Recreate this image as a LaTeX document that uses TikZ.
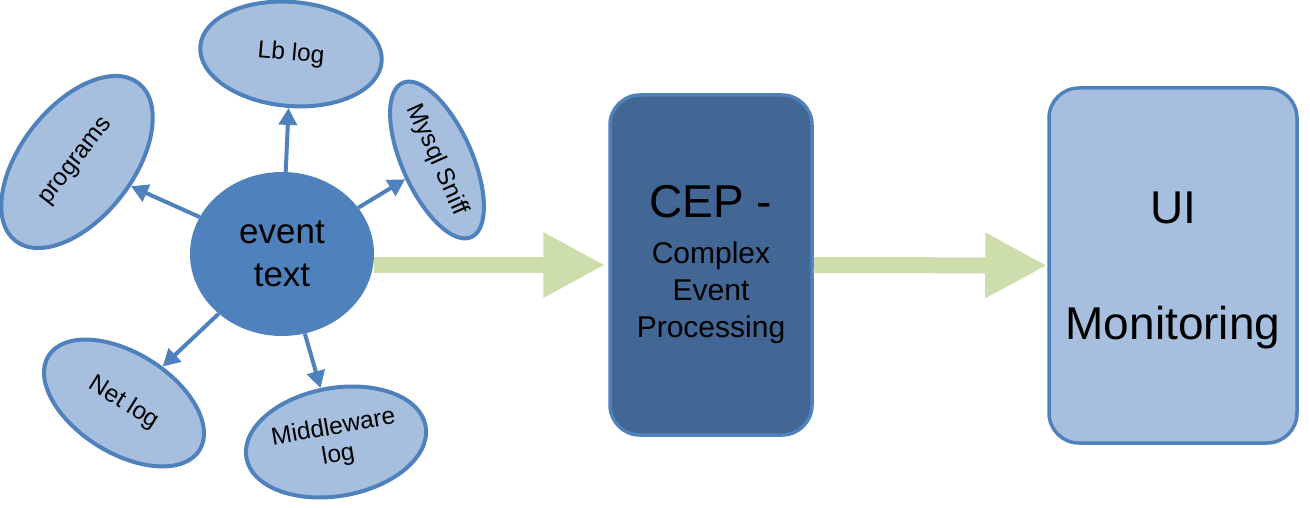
\documentclass[tikz,border=0pt]{standalone}
\usepackage{fontspec}
\setmainfont{Liberation Sans}
\usetikzlibrary{shapes.geometric,arrows.meta}
\definecolor{edgeblue}{RGB}{79,129,189}
\definecolor{lightblue}{RGB}{167,191,222}
\definecolor{darkblue}{RGB}{66,103,148}
\definecolor{paleolive}{RGB}{205,221,172}

\begin{document}
\begin{tikzpicture}[x=1pt,y=-1pt,
		source/.style={ellipse,draw=edgeblue,fill=lightblue,line width=4pt,inner sep=0pt,align=center,font=\fontsize{24.5}{28}\selectfont},
		feed/.style={draw=edgeblue,line width=4pt,-{Triangle[length=17pt,width=18pt]}},
		stage/.style={rectangle,rounded corners=30pt,draw=edgeblue,line width=3.5pt,align=center},
		flow/.style={draw=paleolive,line width=16pt,-{Triangle[length=62pt,width=61pt]}}]
	\useasboundingbox (0,0) rectangle (1310,508);
	% Nodes
	\node[ellipse,fill=edgeblue,minimum width=184pt,minimum height=164pt,inner sep=0pt,align=center,font=\fontsize{35}{43}\selectfont] (event) at (282,254) {event\\text};
	
	\node[source,rotate=-5,minimum width=182pt,minimum height=104pt] (lb) at (291,54) {Lb log};
	\node[source,rotate=52,minimum width=200pt,minimum height=112pt] (prog) at (77,162) {programs};
	\node[source,rotate=-66,minimum width=164pt,minimum height=70pt] (mysql) at (437,160) {Mysql Sniff};
	\node[source,rotate=-32,minimum width=178pt,minimum height=100pt] (net) at (124,403) {Net log};
	\node[source,rotate=10,minimum width=182pt,minimum height=108pt] (mid) at (336,442) {Middleware\\log};
	
	\node[stage,fill=darkblue,minimum width=202pt,minimum height=340pt,font=\fontsize{30}{37}\selectfont] (cep) at (711,265) {{\fontsize{46}{46}\selectfont CEP -}\\[9pt]Complex\\Event\\Processing};
	\node[stage,fill=lightblue,minimum width=248pt,minimum height=355pt,font=\fontsize{46}{58}\selectfont,text depth=0pt] (ui) at (1173,265.5) {UI\\[58pt]Monitoring};
	
	% Links
	\draw[feed] (event) -- (lb);
	\draw[feed] (event) -- (prog);
	\draw[feed] (event) -- (mysql);
	\draw[feed] (event) -- (net);
	\draw[feed] (event) -- (mid);
	
	\draw[flow] (event.east |- cep.west) -- ([xshift=-3pt]cep.west);
	\draw[flow] (cep.east) -- (ui.west);
\end{tikzpicture}
\end{document}
